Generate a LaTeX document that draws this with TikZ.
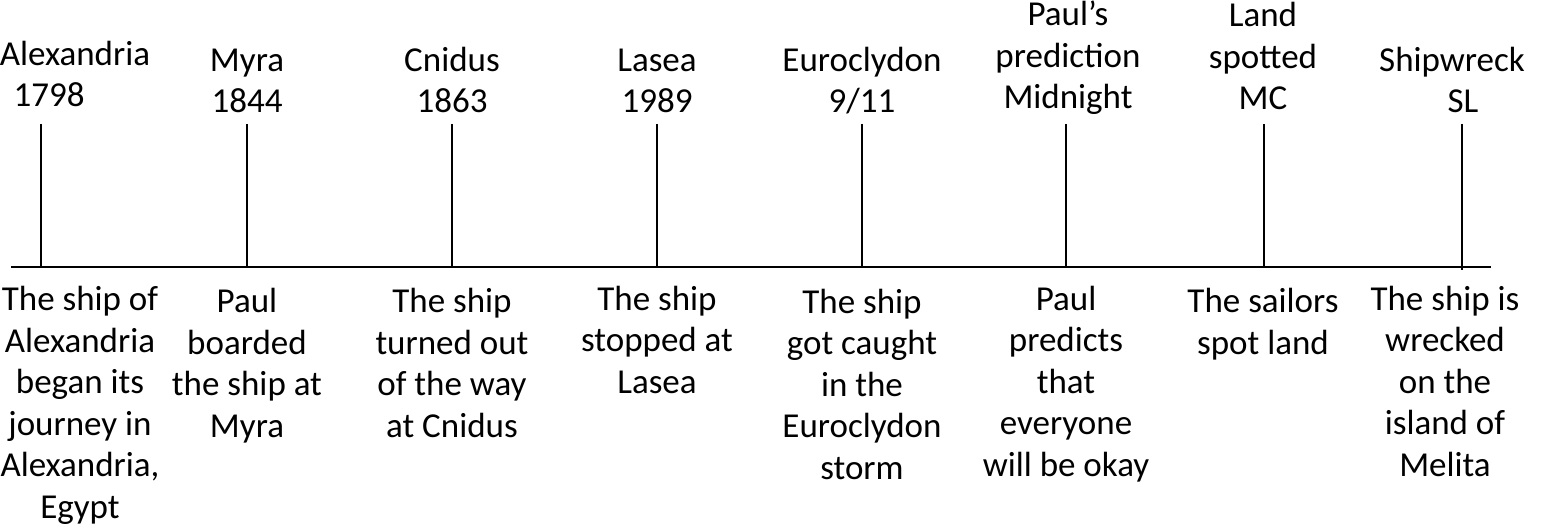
\documentclass[tikz,border=0pt]{standalone}
\usepackage{fontspec}
\setmainfont{Carlito}
\begin{document}
\begin{tikzpicture}[x=1pt,y=-1pt,
  lbl/.style={align=center,inner sep=0pt,anchor=base,font=\fontsize{35}{41.5}\selectfont},
  tickline/.style={line width=1.6pt},
  axisline/.style={line width=1.8pt}]
\useasboundingbox (0,0) rectangle (1541,529);
% axis
\coordinate (L) at (11,267);
\coordinate (R) at (1491,267);
\draw[axisline] (L) -- (R);
% ticks
\foreach \n/\x in {1/41,2/247,3/452,4/657,5/862,6/1066,7/1264}{
  \coordinate (t\n) at (\x,124);
  \coordinate (b\n) at (\x,267);
  \draw[tickline] (t\n) -- (b\n);
}
\coordinate (t8) at (1462,124);
\coordinate (b8) at (1462,270);
\draw[tickline] (t8) -- (b8);
% top labels (anchor = baseline of last line)
\node[lbl] (h1) at (75,107) {Alexandria\\1798\hspace*{52pt}};
\node[lbl] (h2) at (247,113) {Myra\\1844};
\node[lbl] (h3) at (452,113) {Cnidus\\1863};
\node[lbl] (h4) at (657,113) {Lasea\\1989};
\node[lbl] (h5) at (862,113) {Euroclydon\\9/11};
\node[lbl] (h6) at (1068,109) {Paul’s\\prediction\\Midnight};
\node[lbl] (h7) at (1263,110) {Land\\spotted\\MC};
\node[lbl] (h8) at (1452,113) {Shipwreck\\\hspace*{22pt}SL};
% bottom labels (anchor = baseline of last line)
\node[lbl] (d1) at (80,518) {The ship of\\Alexandria\\began its\\journey in\\Alexandria,\\Egypt};
\node[lbl] (d2) at (247,437) {Paul\\boarded\\the ship at\\Myra};
\node[lbl] (d3) at (452,437) {The ship\\turned out\\of the way\\at Cnidus};
\node[lbl] (d4) at (657,393) {The ship\\stopped at\\Lasea};
\node[lbl] (d5) at (862,479) {The ship\\got caught\\in the\\Euroclydon\\storm};
\node[lbl] (d6) at (1066,476) {Paul\\predicts\\that\\everyone\\will be okay};
\node[lbl] (d7) at (1263,354) {The sailors\\spot land};
\node[lbl] (d8) at (1445,476) {The ship is\\wrecked\\on the\\island of\\Melita};
\end{tikzpicture}
\end{document}
